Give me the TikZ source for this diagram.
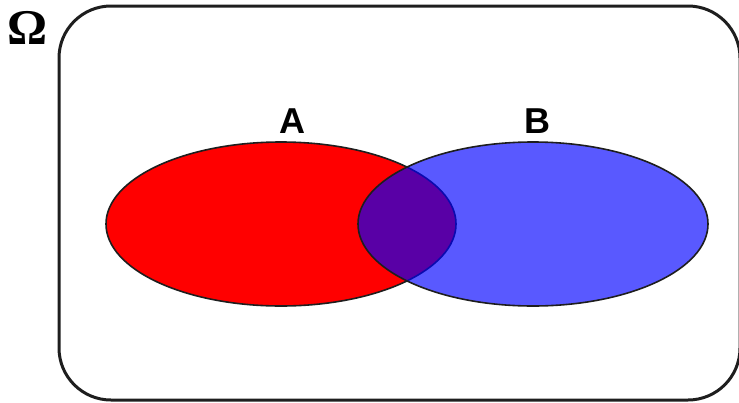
\documentclass[tikz,border=0pt]{standalone}
\usepackage{fontspec}
\setmainfont{Liberation Serif}
\setsansfont{Liberation Sans}
\usepackage{tikz}
\usetikzlibrary{shapes.geometric}
\definecolor{setred}{HTML}{FF0000}
\definecolor{setblue}{HTML}{0000FF}
\definecolor{frame}{HTML}{1E1E1E}

\begin{document}
\begin{tikzpicture}[x=1pt, y=-1pt,
  setbox/.style={ellipse, draw=frame, line width=1.6pt, minimum width=350pt, minimum height=164pt, inner sep=0pt},
  setlabel/.style={font=\sffamily\bfseries\fontsize{36}{36}\selectfont}
]
  \useasboundingbox (0,0) rectangle (739,402);
  \draw[frame, line width=3pt, rounded corners=52pt] (59,6) rectangle (740,400);
  \node[font=\bfseries\fontsize{50}{50}\selectfont] (omega) at (28,28) {Ω};
  \node[setbox, fill=setred] (A) at (281,224) {};
  \node[setbox, fill=setblue, fill opacity=0.65] (B) at (533,224) {};
  \node[setlabel] (labelA) at (292,121) {A};
  \node[setlabel] (labelB) at (537,121) {B};
\end{tikzpicture}
\end{document}
